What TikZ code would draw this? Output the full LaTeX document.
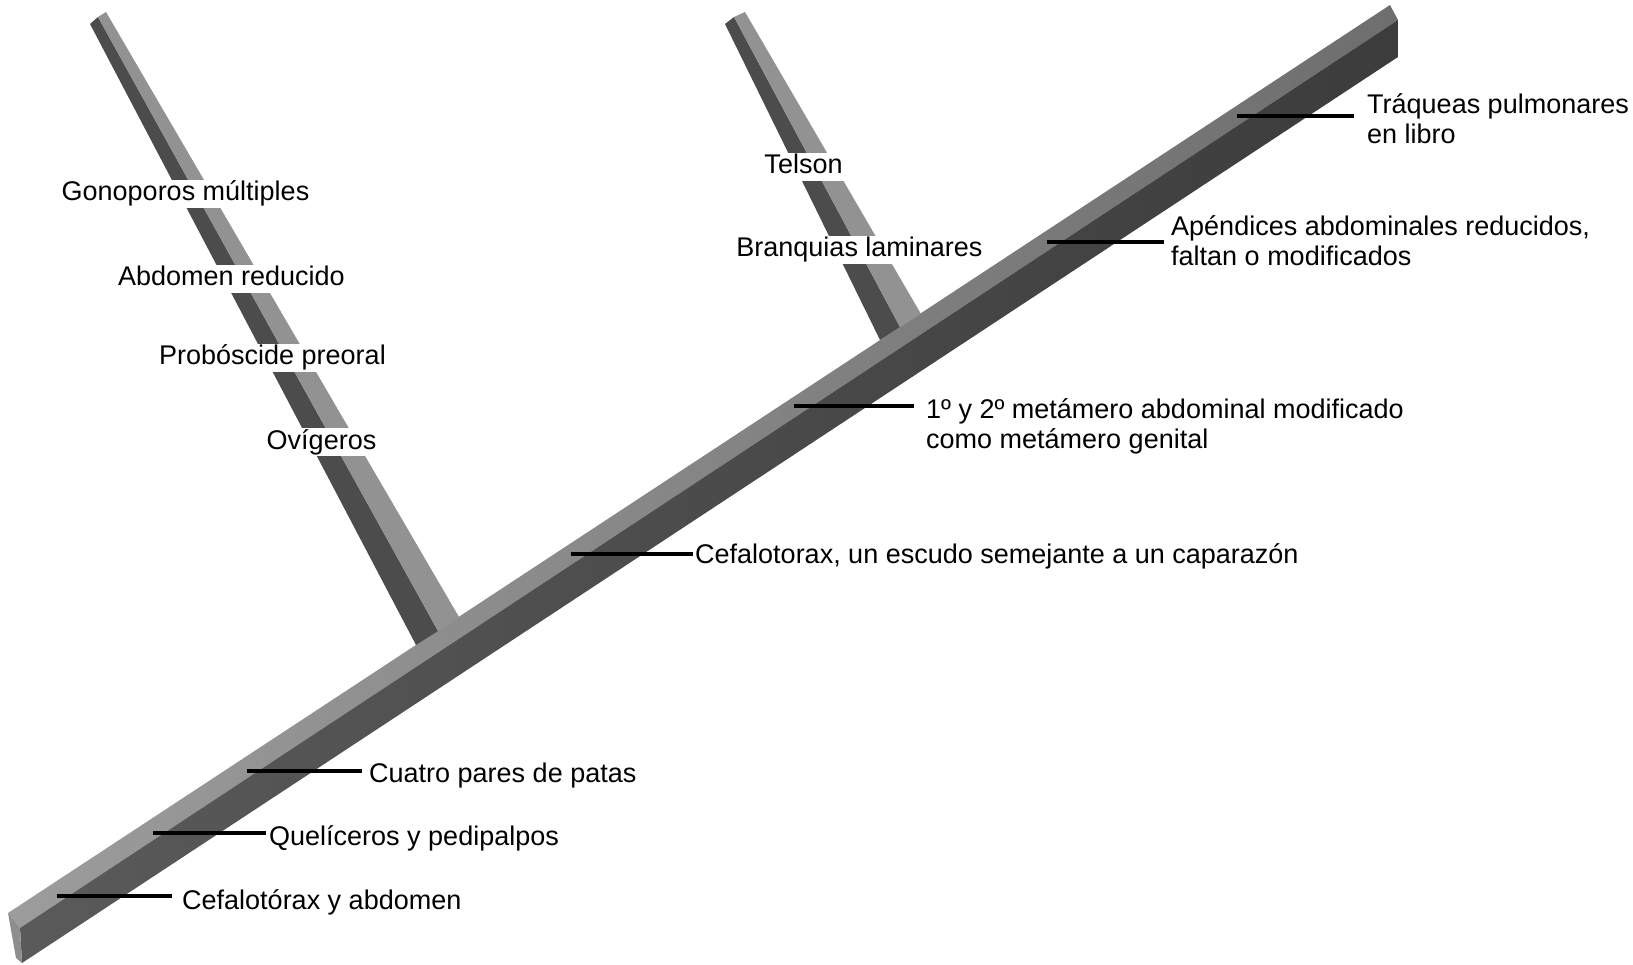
\documentclass[tikz,border=0pt]{standalone}
\usepackage{fontspec}
\setmainfont{Liberation Sans}
\definecolor{topL}{HTML}{9C9C9C}
\definecolor{topR}{HTML}{6E6E6E}
\definecolor{frontL}{HTML}{5A5A5A}
\definecolor{frontR}{HTML}{3C3C3C}
\definecolor{endface}{HTML}{8E8E8E}
\definecolor{bdark}{HTML}{4C4C4C}
\definecolor{blight}{HTML}{929292}
\begin{document}
\begin{tikzpicture}[x=1pt,y=-1pt,
  lab/.style={line width=3.2pt},
  mtxt/.style={font=\fontsize{27}{30}\selectfont, inner sep=0pt, anchor=base west},
  btxt/.style={font=\fontsize{27}{30}\selectfont, fill=white, inner xsep=2pt, inner ysep=1pt, text height=20pt, text depth=6pt, anchor=base}]
\useasboundingbox (0,0) rectangle (1633,965);
% main bar
\shade[left color=topL, right color=topR] (8,913) -- (1390,5) -- (1398,20) -- (20,928) -- cycle;
\shade[left color=frontL, right color=frontR] (20,928) -- (1398,20) -- (1398,57) -- (22,963) -- cycle;
\fill[endface] (8,913) -- (20,928) -- (22,963) -- (16,958) -- cycle;
% branch 1
\fill[bdark] (90,24) -- (98,17) -- (438,631) -- (416,645) -- cycle;
\fill[blight] (98,17) -- (106,12) -- (459,617) -- (438,631) -- cycle;
% branch 2
\fill[bdark] (725,24) -- (734,17) -- (900,327) -- (880,340) -- cycle;
\fill[blight] (734,17) -- (745,12) -- (921,314) -- (900,327) -- cycle;
% branch labels
\node[btxt] (gono) at (185.5,201) {Gonoporos múltiples};
\node[btxt] (abdo) at (231.5,286) {Abdomen reducido};
\node[btxt] (prob) at (272.5,365) {Probóscide preoral};
\node[btxt] (ovig) at (321.5,449) {Ovígeros};
\node[btxt] (tels) at (803.5,174) {Telson};
\node[btxt] (bran) at (859.5,257) {Branquias laminares};
% main bar labels
\node[mtxt] (ta) at (182,909) {Cefalotórax y abdomen};
\node[mtxt] (tb) at (269,845) {Quelíceros y pedipalpos};
\node[mtxt] (tc) at (369,782) {Cuatro pares de patas};
\node[mtxt] (td) at (695,563) {Cefalotorax, un escudo semejante a un caparazón};
\node[mtxt] (te) at (926,418) {\begin{tabular}[t]{@{}l@{}}1º y 2º metámero abdominal modificado\\como metámero genital\end{tabular}};
\node[mtxt] (tf) at (1171,236) {\begin{tabular}[t]{@{}l@{}}Apéndices abdominales reducidos,\\faltan o modificados\end{tabular}};
\node[mtxt] (tg) at (1367,114) {\begin{tabular}[t]{@{}l@{}}Tráqueas pulmonares\\en libro\end{tabular}};
\coordinate (ca) at (57,896);
\coordinate (cb) at (153,833);
\coordinate (cc) at (247,771);
\coordinate (cd) at (571,554);
\coordinate (ce) at (794,406);
\coordinate (cf) at (1047,242);
\coordinate (cg) at (1237,116);
\draw[lab, shorten >=10pt] (ca) -- (ca -| ta.west);
\draw[lab, shorten >=3pt] (cb) -- (cb -| tb.west);
\draw[lab, shorten >=7pt] (cc) -- (cc -| tc.west);
\draw[lab, shorten >=2pt] (cd) -- (cd -| td.west);
\draw[lab, shorten >=12pt] (ce) -- (ce -| te.west);
\draw[lab, shorten >=7pt] (cf) -- (cf -| tf.west);
\draw[lab, shorten >=13pt] (cg) -- (cg -| tg.west);
\end{tikzpicture}
\end{document}
